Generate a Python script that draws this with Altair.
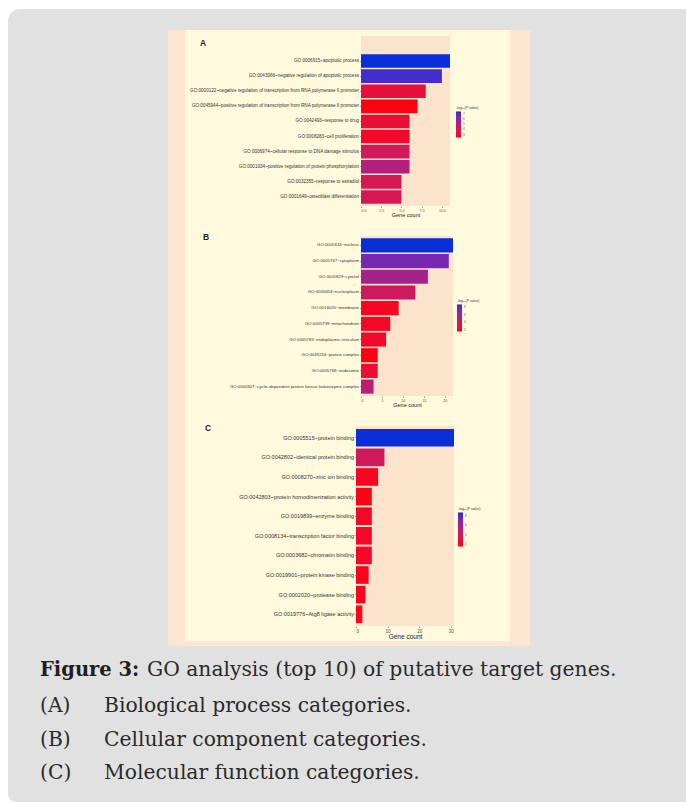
import altair as alt
import pandas as pd

# ---- data: GO enrichment, top 10 terms per category ----
bp_terms = [
    "GO:0006915~apoptotic process",
    "GO:0043066~negative regulation of apoptotic process",
    "GO:0000122~negative regulation of transcription from RNA polymerase II promoter",
    "GO:0045944~positive regulation of transcription from RNA polymerase II promoter",
    "GO:0042493~response to drug",
    "GO:0008283~cell proliferation",
    "GO:0006974~cellular response to DNA damage stimulus",
    "GO:0001934~positive regulation of protein phosphorylation",
    "GO:0032355~response to estradiol",
    "GO:0001649~osteoblast differentiation",
]
bp_counts = [11, 10, 8, 7, 6, 6, 6, 6, 5, 5]
bp_logp = [7.4, 7.1, 3.3, 2.4, 3.2, 2.8, 4.0, 5.0, 3.9, 3.9]

cc_terms = [
    "GO:0005634~nucleus",
    "GO:0005737~cytoplasm",
    "GO:0005829~cytosol",
    "GO:0005654~nucleoplasm",
    "GO:0016020~membrane",
    "GO:0005739~mitochondrion",
    "GO:0005783~endoplasmic reticulum",
    "GO:0043234~protein complex",
    "GO:0005768~endosome",
    "GO:0000307~cyclin-dependent protein kinase holoenzyme complex",
]
cc_counts = [22, 21, 16, 13, 9, 7, 6, 4, 4, 3]
cc_logp = [8.6, 7.2, 5.7, 4.0, 1.8, 2.0, 2.1, 1.4, 2.4, 4.8]

mf_terms = [
    "GO:0005515~protein binding",
    "GO:0042802~identical protein binding",
    "GO:0008270~zinc ion binding",
    "GO:0042803~protein homodimerization activity",
    "GO:0019899~enzyme binding",
    "GO:0008134~transcription factor binding",
    "GO:0003682~chromatin binding",
    "GO:0019901~protein kinase binding",
    "GO:0002020~protease binding",
    "GO:0019776~Atg8 ligase activity",
]
mf_counts = [31, 9, 7, 5, 5, 5, 5, 4, 3, 2]
mf_logp = [8.7, 3.9, 1.8, 1.5, 2.0, 2.0, 1.9, 1.6, 1.7, 1.6]

caption_head = "Figure 3:"
caption_rest = "GO analysis (top 10) of putative target genes."
caption_items = [("(A)", "Biological process categories."),
                 ("(B)", "Cellular component categories."),
                 ("(C)", "Molecular function categories.")]

# ---- colours and fonts ----
PAGE_GRAY = "#e1e1e1"
FIG_PEACH = "#fde5cf"
FIG_CREAM = "#fffadd"
PANEL_BG = "#fce3cb"
LOW, HIGH = "#ff0010", "#0a2ed8"
SANS = "Liberation Sans"
SERIF = "DejaVu Serif"

one = pd.DataFrame({"k": [0]})

# origin of panel A's plot area on the page
AX, AY = 361, 36


def box(x1, x2, y1, y2, color, **kw):
    return alt.Chart(one).mark_rect(color=color, **kw).encode(
        x=alt.value(x1), x2=alt.value(x2), y=alt.value(y1), y2=alt.value(y2))


def label(text, x, y, size, weight="normal", font=SANS, color="#222222"):
    return alt.Chart(one).mark_text(
        text=text, font=font, fontSize=size, fontWeight=weight, color=color,
        align="left", baseline="alphabetic").encode(x=alt.value(x), y=alt.value(y))


def panel(terms, counts, logp, letter, height, yrange, xmax, xrange, xticks, xfmt,
          lab_size, tick_size, title_size, legend_vals, lo, hi, lx, ly, glen, letter_xy,
          yoffset=0):
    df = pd.DataFrame({"term": terms, "count": counts, "logp": logp})
    bg = box(xrange[0], xrange[1], 0, height, PANEL_BG)
    bars = alt.Chart(df).mark_bar().encode(
        y=alt.Y("term:N", sort=terms,
                scale=alt.Scale(range=yrange, paddingInner=0.1, paddingOuter=0.15),
                axis=alt.Axis(title=None, labelFontSize=lab_size, labelColor="#333333",
                              labelFont=SANS, domain=False, tickSize=1.5, tickColor="#555555",
                              tickWidth=0.5, labelPadding=1, labelLimit=400, offset=yoffset,
                              zindex=1)),
        x=alt.X("count:Q",
                scale=alt.Scale(domain=[0, xmax], range=xrange, nice=False),
                axis=alt.Axis(title="Gene count", values=xticks, format=xfmt,
                              labelFontSize=tick_size, labelColor="#4d4d4d", labelFont=SANS,
                              titleFontSize=title_size, titleFont=SANS, titleFontWeight="normal",
                              titleColor="#222222", titlePadding=0.5, labelPadding=1,
                              domain=False, grid=False, tickSize=1.5, tickWidth=0.5,
                              tickColor="#555555", zindex=1)),
        color=alt.Color("logp:Q",
                        scale=alt.Scale(domain=[lo, hi], range=[LOW, HIGH], interpolate="lab"),
                        legend=alt.Legend(title="-log₁₀(P value)", orient="none",
                                          legendX=lx, legendY=ly, values=legend_vals,
                                          gradientLength=glen, gradientThickness=5,
                                          titleFontSize=3.5, titleFontWeight="normal",
                                          titleFont=SANS, titleColor="#333333", titlePadding=2,
                                          labelFontSize=3, labelColor="#555555", labelFont=SANS,
                                          labelOffset=2, gradientStrokeWidth=0, zindex=1)),
    )
    tag = label(letter, letter_xy[0], letter_xy[1], 8.5, weight="bold")
    return bg, bars, tag


# panel A (biological process) plus page decorations and caption
bgA, barsA, tagA = panel(bp_terms, bp_counts, bp_logp, "A", 170, [16, 170], 11, [0, 89],
                         [0, 2.5, 5, 7.5, 10], ".1f", 4.6, 3.5, 5.5, [3, 4, 5, 6, 7],
                         2.4, 7.4, 95, 70, 26, (200 - AX, 46 - AY))

page = box(-AX, 686 - AX, -AY, 802 - AY, "#ffffff")
gray = box(8 - AX, 686 - AX, 9 - AY, 802 - AY, PAGE_GRAY,
           cornerRadiusTopLeft=12, cornerRadiusBottomLeft=8)
fig_outer = box(168 - AX, 530 - AX, 30 - AY, 646 - AY, FIG_PEACH)
fig_inner = box(185 - AX, 510 - AX, 30 - AY, 641 - AY, FIG_CREAM)

CAP = 20.3
cap = [label(caption_head, 40 - AX, 676 - AY, 19.5, weight="bold", font=SERIF, color="#1e1e1e"),
       label(caption_rest, 147 - AX, 676 - AY, CAP, font=SERIF, color="#2a2a2a")]
for i, (tag_txt, desc) in enumerate(caption_items):
    yb = 712 + i * 33.5 - AY
    cap.append(label(tag_txt, 40 - AX, yb, CAP, font=SERIF, color="#2a2a2a"))
    cap.append(label(desc, 104 - AX, yb, CAP, font=SERIF, color="#2a2a2a"))

chartA = alt.layer(page, gray, fig_outer, fig_inner, bgA, barsA, tagA, *cap).properties(
    width=89, height=170)

# panel B (cellular component)
bgB, barsB, tagB = panel(cc_terms, cc_counts, cc_logp, "B", 160, [0, 160], 22, [0, 92],
                         [0, 5, 10, 15, 20], "d", 4.3, 3.5, 5.5, [2, 4, 6, 8],
                         1.4, 8.6, 96, 63, 27, (203 - AX, 240 - 236))
chartB = alt.layer(bgB, barsB, tagB).properties(width=92, height=160)

# panel C (molecular function)
bgC, barsC, tagC = panel(mf_terms, mf_counts, mf_logp, "C", 200, [0, 200], 31, [-5, 93],
                         [0, 10, 20, 30], "d", 5.5, 4.5, 6.5, [2, 4, 6, 8],
                         1.4, 8.7, 97, 81, 34, (205 - AX, 431 - 426), yoffset=5)
chartC = alt.layer(bgC, barsC, tagC).properties(width=93, height=200)

chart = alt.vconcat(chartA, chartB, chartC, spacing=30, bounds="flush").resolve_scale(
    color="independent", x="independent", y="independent"
).properties(padding=0).configure_view(strokeWidth=0)

chart.save("out.html", embed_options={"renderer": "svg", "actions": False})
